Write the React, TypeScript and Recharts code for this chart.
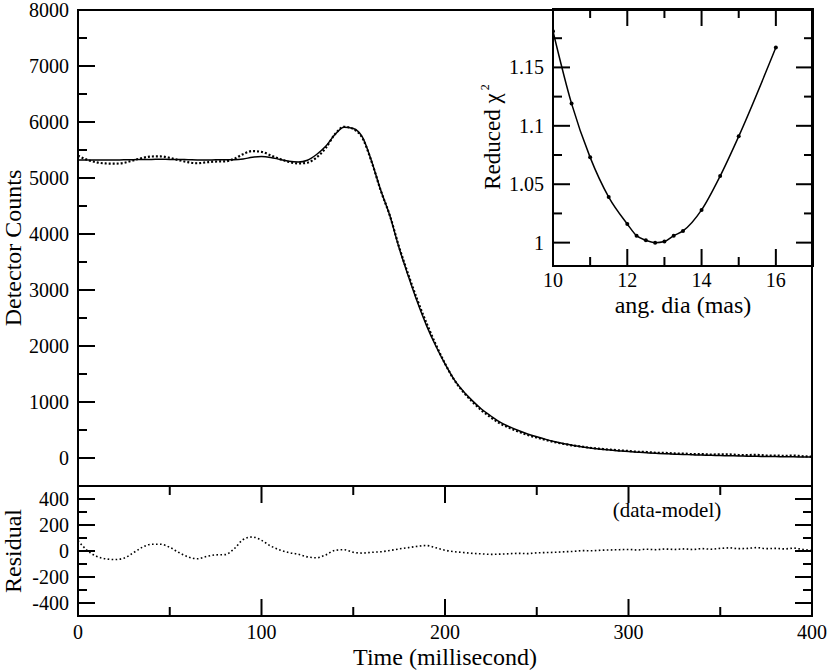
import React from "react";
import { LineChart, Line, XAxis, YAxis, ReferenceArea } from "recharts";

// light curve, sampled every 5 ms
const timeMs = [
  0, 5, 10, 15, 20, 25, 30, 35, 40, 45, 50, 55, 60, 65, 70, 75, 80, 85, 90, 95,
  100, 105, 110, 115, 120, 125, 130, 135, 140, 145, 150, 155, 160, 165, 170, 175,
  180, 185, 190, 195, 200, 205, 210, 215, 220, 225, 230, 235, 240, 245, 250, 255,
  260, 265, 270, 275, 280, 285, 290, 295, 300, 305, 310, 315, 320, 325, 330, 335,
  340, 345, 350, 355, 360, 365, 370, 375, 380, 385, 390, 395, 400,
];
const modelCounts = [
  5320, 5320, 5320, 5320, 5322, 5325, 5328, 5330, 5332, 5333, 5332, 5330, 5327,
  5323, 5322, 5324, 5325, 5325, 5338, 5372, 5385, 5368, 5332, 5298, 5285, 5318,
  5420, 5565, 5775, 5905, 5885, 5730, 5300, 4780, 4320, 3750, 3250, 2780, 2360,
  2000, 1680, 1400, 1190, 1020, 870, 750, 640, 560, 490, 430, 380, 333, 292, 256,
  225, 198, 176, 157, 141, 127, 114, 103, 93, 84, 76, 69, 63, 57, 52, 48, 44, 40,
  36, 33, 30, 27, 25, 23, 21, 19, 18,
];
const dataCounts = [
  5400, 5325, 5280, 5260, 5256, 5270, 5313, 5358, 5384, 5385, 5360, 5318, 5282,
  5263, 5280, 5294, 5297, 5340, 5426, 5480, 5467, 5406, 5340, 5286, 5260, 5273,
  5368, 5535, 5780, 5915, 5875, 5714, 5290, 4774, 4324, 3766, 3276, 2816, 2402,
  2025, 1686, 1395, 1178, 1002, 848, 724, 616, 539, 472, 410, 366, 321, 282, 250,
  222, 201, 178, 163, 149, 137, 126, 111, 107, 94, 91, 81, 79, 69, 70, 62, 64, 64,
  54, 53, 56, 45, 45, 39, 43, 31, 23,
];
const residualCounts = [
  80, 5, -40, -60, -66, -55, -15, 28, 52, 52, 28, -12, -45, -60, -42, -30, -28,
  15, 88, 108, 82, 38, 8, -12, -25, -45, -52, -30, 5, 10, -10, -16, -10, -6, 4,
  16, 26, 36, 42, 25, 6, -5, -12, -18, -22, -26, -24, -21, -18, -20, -14, -12,
  -10, -6, -3, 3, 2, 6, 8, 10, 12, 8, 14, 10, 15, 12, 16, 12, 18, 14, 20, 24, 18,
  20, 26, 18, 20, 16, 22, 12, 5,
];

// inset: reduced chi-square vs angular diameter
const angDia = [10, 10.5, 11, 11.5, 12, 12.25, 12.5, 12.75, 13, 13.25, 13.5, 14, 14.5, 15, 16];
const reducedChi2 = [
  1.181, 1.119, 1.073, 1.039, 1.016, 1.006, 1.002, 1.0, 1.001, 1.006, 1.01, 1.028,
  1.057, 1.091, 1.167,
];

const countTicks = [0, 500, 1000, 1500, 2000, 2500, 3000, 3500, 4000, 4500, 5000, 5500, 6000, 6500, 7000, 7500, 8000];
const timeTicks = [0, 50, 100, 150, 200, 250, 300, 350, 400];
const residualTicks = [-400, -300, -200, -100, 0, 100, 200, 300, 400];
const diaTicks = [10, 11, 12, 13, 14, 15, 16];
const chiTicks = [1, 1.025, 1.05, 1.075, 1.1, 1.125, 1.15, 1.175];

const FONT = "'Liberation Serif', 'Times New Roman', serif";
const INK = "#000";

const curveRows = timeMs.map((t, i) => ({
  t,
  model: modelCounts[i],
  data: dataCounts[i],
  res: residualCounts[i],
}));
const chiRows = angDia.map((d, i) => ({ d, chi: reducedChi2[i] }));

type Side = "left" | "right" | "top" | "bottom";

// inward ticks, long on multiples of `step`, short otherwise
function tickRenderer(side: Side, step: number, labels: boolean, below = 23) {
  return (props: any) => {
    const { x, y, payload } = props;
    const v = Number(payload.value);
    const major = Math.abs(v / step - Math.round(v / step)) < 1e-6;
    const len = major ? 17 : 9;
    let x2 = x;
    let y2 = y;
    if (side === "left") x2 = x + len;
    if (side === "right") x2 = x - len;
    if (side === "top") y2 = y + len;
    if (side === "bottom") y2 = y - len;
    return (
      <g>
        <line x1={x} y1={y} x2={x2} y2={y2} stroke={INK} strokeWidth={2} />
        {labels && major && side === "left" && (
          <text x={x - 9} y={y + 7} textAnchor="end" fontFamily={FONT} fontSize={20} fill={INK}>
            {String(v)}
          </text>
        )}
        {labels && major && side === "bottom" && (
          <text x={x} y={y + below} textAnchor="middle" fontFamily={FONT} fontSize={20} fill={INK}>
            {String(v)}
          </text>
        )}
      </g>
    );
  };
}

// axes are 1px wide/high (recharts skips 0-size axes); tickSize 0 puts the tick origin on the frame
const axisBits = {
  tickLine: false,
  axisLine: false,
  tickSize: 0,
  tickMargin: 0,
  interval: 0 as const,
  allowDataOverflow: true,
};

function MainPanel() {
  return (
    <LineChart width={830} height={671} data={curveRows} margin={{ top: 10, right: 18, bottom: 185, left: 77 }}>
      <XAxis dataKey="t" type="number" domain={[0, 400]} hide allowDataOverflow />
      <YAxis
        type="number"
        domain={[-500, 8000]}
        ticks={countTicks}
        width={1}
        tick={tickRenderer("left", 1000, true)}
        {...axisBits}
      />
      <ReferenceArea x1={0} x2={400} y1={-500} y2={8000} fill="none" stroke={INK} strokeWidth={2} />
      <Line dataKey="model" type="monotone" stroke={INK} strokeWidth={1.5} dot={false} activeDot={false} isAnimationActive={false} />
      <Line
        dataKey="data"
        type="monotone"
        stroke={INK}
        strokeWidth={2.2}
        strokeDasharray="2 2"
        dot={false}
        activeDot={false}
        isAnimationActive={false}
      />
      <text x={21} y={248} transform="rotate(-90 21 248)" textAnchor="middle" fontFamily={FONT} fontSize={24} fill={INK}>
        Detector Counts
      </text>
    </LineChart>
  );
}

function ResidualPanel() {
  return (
    <LineChart width={830} height={671} data={curveRows} margin={{ top: 485, right: 17, bottom: 54, left: 77 }}>
      <XAxis xAxisId="b" dataKey="t" type="number" domain={[0, 400]} ticks={timeTicks} orientation="bottom" height={1} tick={tickRenderer("bottom", 100, true, 23)} {...axisBits} />
      <XAxis xAxisId="t" dataKey="t" type="number" domain={[0, 400]} ticks={timeTicks} orientation="top" height={1} tick={tickRenderer("top", 100, false)} {...axisBits} />
      <YAxis yAxisId="l" type="number" domain={[-500, 500]} ticks={residualTicks} orientation="left" width={1} tick={tickRenderer("left", 200, true)} {...axisBits} />
      <YAxis yAxisId="r" type="number" domain={[-500, 500]} ticks={residualTicks} orientation="right" width={1} tick={tickRenderer("right", 200, false)} {...axisBits} />
      <ReferenceArea xAxisId="b" yAxisId="l" x1={0} x2={400} y1={-500} y2={500} fill="none" stroke={INK} strokeWidth={2} />
      <Line
        xAxisId="b"
        yAxisId="l"
        dataKey="res"
        type="monotone"
        stroke={INK}
        strokeWidth={1.6}
        strokeDasharray="1.6 2.4"
        dot={false}
        activeDot={false}
        isAnimationActive={false}
      />
      <text x={21} y={551} transform="rotate(-90 21 551)" textAnchor="middle" fontFamily={FONT} fontSize={24} fill={INK}>
        Residual
      </text>
      <text x={667} y={517} textAnchor="middle" fontFamily={FONT} fontSize={21} fill={INK}>
        (data-model)
      </text>
      <text x={445} y={665} textAnchor="middle" fontFamily={FONT} fontSize={24} fill={INK}>
        Time (millisecond)
      </text>
    </LineChart>
  );
}

function ChiInset() {
  return (
    <LineChart width={830} height={671} data={chiRows} margin={{ top: 8, right: 16, bottom: 404, left: 552 }}>
      <XAxis xAxisId="b" dataKey="d" type="number" domain={[10, 17]} ticks={diaTicks} orientation="bottom" height={1} tick={tickRenderer("bottom", 2, true, 21)} {...axisBits} />
      <XAxis xAxisId="t" dataKey="d" type="number" domain={[10, 17]} ticks={diaTicks} orientation="top" height={1} tick={tickRenderer("top", 2, false)} {...axisBits} />
      <YAxis yAxisId="l" type="number" domain={[0.98, 1.2]} ticks={chiTicks} orientation="left" width={1} tick={tickRenderer("left", 0.05, true)} {...axisBits} />
      <YAxis yAxisId="r" type="number" domain={[0.98, 1.2]} ticks={chiTicks} orientation="right" width={1} tick={tickRenderer("right", 0.05, false)} {...axisBits} />
      <ReferenceArea xAxisId="b" yAxisId="l" x1={10} x2={17} y1={0.98} y2={1.2} fill="none" stroke={INK} strokeWidth={2} />
      <Line
        xAxisId="b"
        yAxisId="l"
        dataKey="chi"
        type="monotone"
        stroke={INK}
        strokeWidth={1.5}
        dot={{ r: 2, fill: INK, stroke: INK, strokeWidth: 0 }}
        activeDot={false}
        isAnimationActive={false}
      />
      <text x={500} y={137} transform="rotate(-90 500 137)" textAnchor="middle" fontFamily={FONT} fontSize={23} fill={INK}>
        Reduced χ
        <tspan dx={3} dy={-11} fontSize={12}>
          2
        </tspan>
      </text>
      <text x={683} y={313} textAnchor="middle" fontFamily={FONT} fontSize={24} fill={INK}>
        ang. dia (mas)
      </text>
    </LineChart>
  );
}

export default function App() {
  return (
    <div style={{ position: "absolute", left: 0, top: 0, width: 830, height: 671, background: "#fff" }}>
      <div style={{ position: "absolute", left: 0, top: 0 }}>
        <MainPanel />
      </div>
      <div style={{ position: "absolute", left: 0, top: 0 }}>
        <ResidualPanel />
      </div>
      <div style={{ position: "absolute", left: 0, top: 0 }}>
        <ChiInset />
      </div>
    </div>
  );
}
